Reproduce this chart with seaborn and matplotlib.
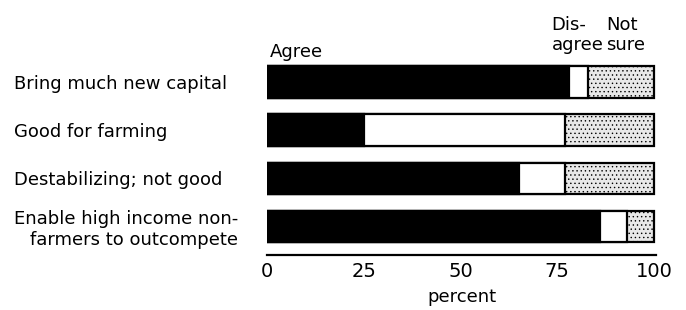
import pandas as pd
import matplotlib.pyplot as plt
import matplotlib.transforms as mtransforms
import seaborn as sns

# adatok a kepről leolvasva
categories = ["Bring much new capital", "Good for farming", "Destabilizing; not good",
              "Enable high income non-\nfarmers to outcompete"]
agree = [78, 25, 65, 86]
disagree = [5, 52, 12, 7]
not_sure = [17, 23, 23, 7]
ticks = [0, 25, 50, 75, 100]

data = pd.DataFrame({"cat": categories, "agree": agree, "disagree": disagree, "not_sure": not_sure})
# egymásra rajzolt oszlopok: leghosszabb hátul
data["upto_disagree"] = data["agree"] + data["disagree"]
data["upto_not_sure"] = data["upto_disagree"] + data["not_sure"]

sns.set_style("white")
plt.rcParams["font.family"] = ["DejaVu Sans"]
plt.rcParams["text.color"] = "black"
plt.rcParams["hatch.linewidth"] = 0.5
plt.rcParams["hatch.color"] = "#666666"

fig = plt.figure(figsize=(6.86, 3.10), dpi=100)
ax = fig.add_axes([267 / 686, 1 - 255 / 310, (656 - 267) / 686, (255 - 58) / 310])

bar_kw = dict(orient="h", width=0.65, edgecolor="black", linewidth=1.6, saturation=1, ax=ax)
sns.barplot(data=data, x="upto_not_sure", y="cat", color="#e8e8e8", hatch="....", **bar_kw)
sns.barplot(data=data, x="upto_disagree", y="cat", color="white", **bar_kw)
sns.barplot(data=data, x="agree", y="cat", color="black", **bar_kw)

ax.set_xlim(0, 100.5)
ax.set_ylim(3.6, -0.5)
ax.set_xticks(ticks)
ax.set_xticklabels([str(t) for t in ticks], fontsize=14)
ax.tick_params(axis="x", direction="in", length=8, width=1.6, pad=5, colors="black")
ax.tick_params(axis="y", length=0, pad=182, labelsize=13, colors="black")
for lab in ax.get_yticklabels():
    lab.set_horizontalalignment("left")
    lab.set_multialignment("right")
ax.set_xlabel("percent", fontsize=13, labelpad=5, color="black")
ax.set_ylabel("")
sns.despine(ax=ax, left=True, top=True, right=True)
ax.spines["bottom"].set_linewidth(1.6)
ax.spines["bottom"].set_color("black")

# fejlécek a sávok fölött
trans = mtransforms.blended_transform_factory(ax.transData, fig.transFigure)
ax.text(0.7, 1 - 57 / 310, "Agree", transform=trans, fontsize=13, va="baseline")
ax.text(73.5, 1 - 50 / 310, "Dis-\nagree", transform=trans, fontsize=13, va="baseline", linespacing=1.15)
ax.text(87.7, 1 - 50 / 310, "Not\nsure", transform=trans, fontsize=13, va="baseline", linespacing=1.15)

plt.savefig("out.png", dpi=100)
plt.close()
